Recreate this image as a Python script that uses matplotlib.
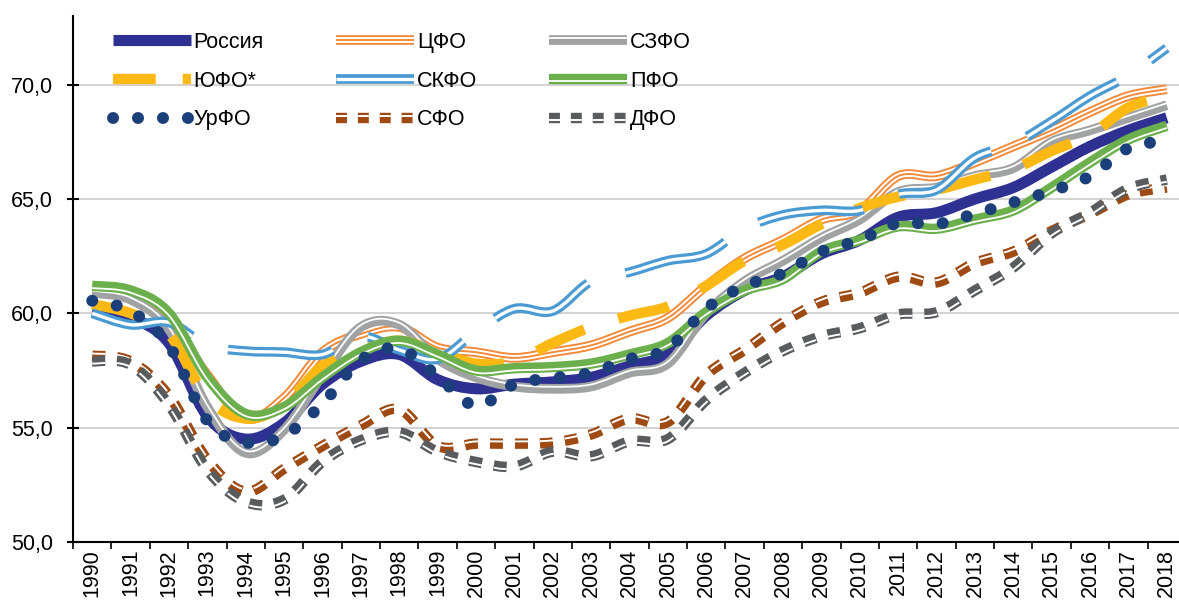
import numpy as np
import matplotlib
matplotlib.use('Agg')
import matplotlib.pyplot as plt
from matplotlib.path import Path
from matplotlib.patches import PathPatch
from matplotlib.lines import Line2D
import matplotlib.patheffects as pe
from matplotlib.ticker import FuncFormatter, MultipleLocator

plt.rcParams['font.family'] = ['Liberation Sans', 'DejaVu Sans']

# данные
years = list(range(1990, 2019))
russia = [60.1, 59.8, 58.7, 55.5, 54.5, 55.2, 56.9, 57.9, 58.2, 57.1, 56.7, 56.9, 57.0, 57.2,
          57.7, 58.2, 59.9, 61.0, 61.6, 62.6, 63.2, 64.2, 64.4, 65.0, 65.5, 66.4, 67.3, 68.0, 68.55]
cfo = [61.1, 60.9, 59.7, 57.3, 55.4, 56.3, 58.3, 59.1, 59.4, 58.5, 58.3, 58.05, 58.3, 58.6,
       59.2, 59.8, 61.2, 62.4, 63.2, 64.1, 64.5, 66.0, 66.0, 66.6, 67.3, 68.0, 68.8, 69.5, 69.8]
szfo = [60.9, 60.6, 59.3, 55.9, 53.9, 54.9, 57.3, 59.4, 59.5, 58.0, 57.2, 56.8, 56.7, 56.8,
        57.4, 57.8, 60.0, 61.4, 62.3, 63.3, 64.1, 65.3, 65.5, 66.0, 66.35, 67.5, 68.0, 68.55, 69.1]
yufo = [60.4, 60.0, 59.1, 56.3, 55.4, 56.0, 57.7, 58.4, 58.8, 58.3, 57.8, 57.9, 58.7, 59.4,
        59.9, 60.3, 61.2, 62.3, 63.0, 63.9, 64.6, 65.1, 65.4, 65.85, 66.3, 67.1, 67.8, 69.0, 69.5]
skfo = [60.0, 59.5, 59.6, 58.6, 58.35, 58.3, 58.2, 59.0, 58.4, 58.0, 59.2, 60.2, 60.1, 61.4,
        61.8, 62.3, 62.6, 63.7, 64.3, 64.5, 64.5, 65.2, 65.4, 66.8, 67.4, 68.4, 69.5, 70.4, 71.6]
pfo = [61.2, 61.0, 60.0, 57.2, 55.6, 55.9, 57.2, 58.3, 58.8, 58.2, 57.5, 57.6, 57.65, 57.8,
       58.2, 58.7, 60.05, 61.0, 61.5, 62.7, 63.2, 63.8, 63.7, 64.1, 64.5, 65.5, 66.6, 67.6, 68.2]
urfo = [60.55, 60.1, 58.6, 55.3, 54.35, 54.65, 56.05, 57.95, 58.45, 57.25, 55.95, 56.9, 57.17, 57.4,
        58.0, 58.45, 60.2, 61.2, 61.75, 62.7, 63.2, 63.95, 63.9, 64.35, 64.85, 65.35, 66.0, 67.22, 67.55]
sfo = [58.15, 57.9, 56.4, 53.6, 52.2, 53.2, 54.2, 55.1, 55.8, 54.2, 54.3, 54.3, 54.35, 54.7,
       55.4, 55.25, 57.3, 58.4, 59.6, 60.5, 60.9, 61.6, 61.35, 62.2, 62.7, 63.6, 64.35, 65.2, 65.5]
dfo = [57.9, 57.75, 56.0, 53.15, 51.75, 51.85, 53.5, 54.45, 54.8, 53.95, 53.5, 53.3, 53.95, 53.75,
       54.4, 54.5, 56.2, 57.4, 58.35, 59.0, 59.35, 59.95, 60.05, 61.0, 62.0, 63.5, 64.4, 65.45, 65.85]


def smooth_path(x, y):
    # сглаженная линия как в Excel: кривые Безье через точки
    pts = np.column_stack([x, y]).astype(float)
    n = len(pts)
    verts = [pts[0]]
    codes = [Path.MOVETO]
    for i in range(n - 1):
        p0 = pts[max(i - 1, 0)]
        p1 = pts[i]
        p2 = pts[i + 1]
        p3 = pts[min(i + 2, n - 1)]
        verts += [p1 + (p2 - p0) / 6, p2 - (p3 - p1) / 6, p2]
        codes += [Path.CURVE4] * 3
    return Path(verts, codes)


def two_lines(color, lw, gap, off):
    return [pe.Stroke(linewidth=lw, foreground=color),
            pe.Stroke(linewidth=gap, foreground='white', offset=(0, off))]


# ls - на графике, lls - в легенде
styles = [
    ('Россия', russia, dict(color='#2E3192', lw=8, ls='-', lls='-', pe=None, cap='butt')),
    ('ЦФО', cfo, dict(color='#F28A3A', lw=7, ls='-', lls='-', cap='butt',
                      pe=[pe.Stroke(linewidth=7, foreground='#F28A3A'),
                          pe.Stroke(linewidth=4.2, foreground='white'),
                          pe.Stroke(linewidth=1.4, foreground='#F28A3A')])),
    ('СЗФО', szfo, dict(color='#A0A2A4', lw=7, ls='-', lls='-', cap='butt',
                        pe=two_lines('#A0A2A4', 7, 1.3, 1.45))),
    ('ЮФО*', yufo, dict(color='#FDB913', lw=7.5, ls=(0, (5, 3.4)), lls=(0, (4.1, 2.6)),
                        pe=None, cap='butt')),
    ('СКФО', skfo, dict(color='#4A9AD4', lw=7, ls=(0, (10.9, 4.0)), lls='-', cap='butt',
                        pe=two_lines('#4A9AD4', 7, 2.4, 0))),
    ('ПФО', pfo, dict(color='#6BB04D', lw=7.5, ls='-', lls='-', cap='butt',
                      pe=two_lines('#6BB04D', 7.5, 1.3, -1.6))),
    ('УрФО', urfo, dict(color='#1B3F7A', lw=8.6, ls=(0, (0.01, 2.08)), lls=(0, (0.01, 2.08)),
                        pe=None, cap='round')),
    ('СФО', sfo, dict(color='#9E4A12', lw=7.5, ls=(0, (1.25, 1.15)), lls=(0, (1.05, 1.05)),
                      cap='butt', pe=two_lines('#9E4A12', 7.5, 1.4, 1.6))),
    ('ДФО', dfo, dict(color='#595C5E', lw=7.5, ls=(0, (1.25, 1.15)), lls=(0, (1.05, 1.05)),
                      cap='butt', pe=two_lines('#595C5E', 7.5, 1.4, -1.6))),
]

fig = plt.figure(figsize=(11.79, 6.06), dpi=100)
ax = fig.add_axes([73 / 1179, 1 - 542 / 606, (1186 - 73) / 1179, (542 - 16) / 606])

handles = {}
for name, vals, st in styles:
    patch = PathPatch(smooth_path(years, vals), fill=False, edgecolor=st['color'],
                      linewidth=st['lw'], linestyle=st['ls'], capstyle=st['cap'],
                      joinstyle='round', transform=ax.transData)
    if st['pe']:
        patch.set_path_effects(st['pe'])
    ax.add_patch(patch)
    h = Line2D([], [], color=st['color'], linewidth=st['lw'], linestyle=st['lls'],
               solid_capstyle='butt', dash_capstyle=st['cap'])
    if st['pe']:
        h.set_path_effects(st['pe'])
    handles[name] = h

ax.set_xlim(1989.5, 2018.5)
ax.set_ylim(50, 73.0)

ax.set_yticks([50, 55, 60, 65, 70])
ax.yaxis.set_major_formatter(FuncFormatter(lambda v, p: f'{v:.1f}'.replace('.', ',')))
ax.set_xticks(years)
ax.set_xticklabels([str(y) for y in years], rotation=90)
ax.xaxis.set_minor_locator(MultipleLocator(1, offset=0.5))

ax.tick_params(axis='y', direction='inout', length=9, width=1.5, pad=10, labelsize=15.5)
ax.tick_params(axis='x', which='major', length=0, pad=5, labelsize=15.5)
ax.tick_params(axis='x', which='minor', direction='out', length=5, width=1.2)

ax.yaxis.grid(True, color='#D4D4D4', linewidth=1.5)
ax.set_axisbelow(True)
for s in ['top', 'right']:
    ax.spines[s].set_visible(False)
for s in ['left', 'bottom']:
    ax.spines[s].set_linewidth(1.5)
    ax.spines[s].set_color('black')

order = ['Россия', 'ЮФО*', 'УрФО', 'ЦФО', 'СКФО', 'СФО', 'СЗФО', 'ПФО', 'ДФО']
ax.legend([handles[k] for k in order], order, ncol=3, loc='upper left',
          bbox_to_anchor=(113 / 1179, 1 - 32 / 606), bbox_transform=fig.transFigure,
          frameon=False, fontsize=15.5, handlelength=3.6, handletextpad=0.15,
          columnspacing=3.35, labelspacing=0.82, borderpad=0, borderaxespad=0)

fig.savefig('out.png', dpi=100)
